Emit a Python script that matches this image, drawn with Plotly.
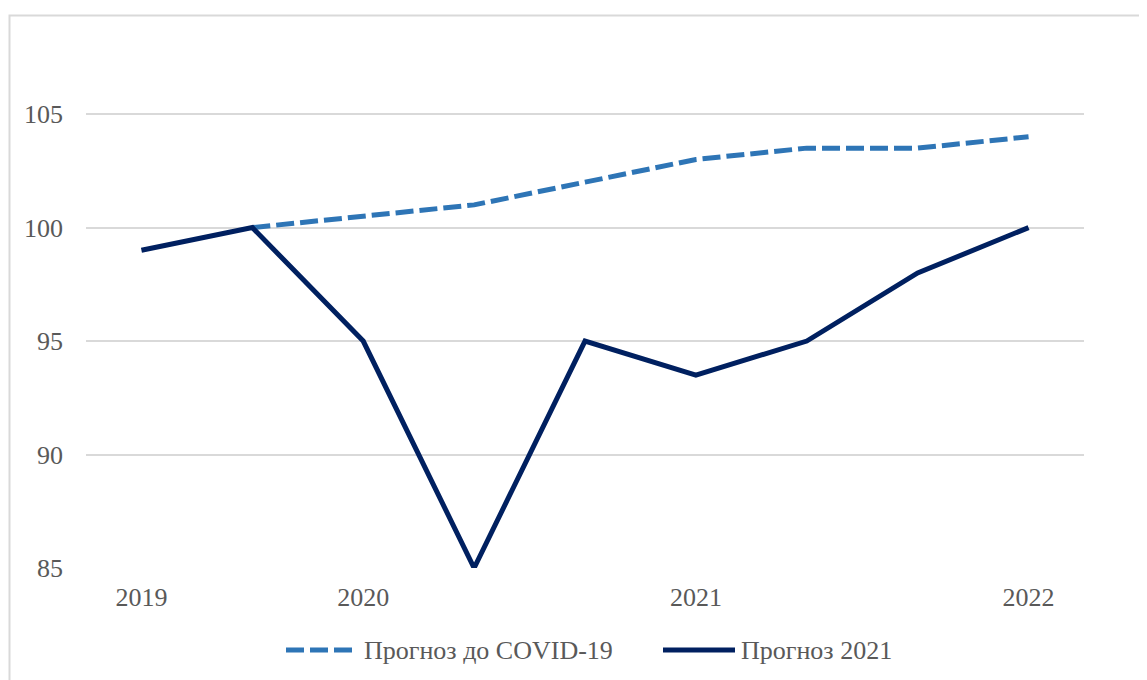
import plotly.graph_objects as go

categories = ["2019", "", "2020", "", "", "2021", "", "", "2022"]
x_idx = list(range(len(categories)))
precovid = [None, 100, 100.5, 101, 102, 103, 103.5, 103.5, 104]
forecast2021 = [99, 100, 95, 85, 95, 93.5, 95, 98, 100]
tick_positions = [0, 2, 5, 8]
tick_labels = ["2019", "2020", "2021", "2022"]
y_ticks = [85, 90, 95, 100, 105]
series_names = ["Прогноз до COVID-19", "Прогноз 2021"]
series_colors = ["#2E75B6", "#002060"]
series_dash = ["18px,6px", "solid"]

FONT = "Liberation Serif"
GRAY = "#595959"
FS = 26

# page offset (browser body margin)
OFF = 8
W, H = 1147 - OFF, 680 - OFF
PL, PR, PT, PB = 86, 1084, 46, 568  # plot area in page pixels
L = PL - OFF
T = PT - OFF
R = (OFF + W) - PR
B = (OFF + H) - PB
pw = PR - PL
ph = PB - PT


def px(x):
    return (x - PL) / pw


def py(y):
    return (PB - y) / ph


fig = go.Figure()
fig.add_trace(go.Scatter(
    x=x_idx, y=precovid, mode="lines", name=series_names[0],
    line=dict(color=series_colors[0], width=5, dash=series_dash[0]),
    showlegend=False,
))
fig.add_trace(go.Scatter(
    x=x_idx, y=forecast2021, mode="lines", name=series_names[1],
    line=dict(color=series_colors[1], width=5, dash=series_dash[1]),
    showlegend=False,
))

legend_y = 650
legend_items = [(286, 352, 362), (663, 735, 739)]
shapes = [dict(
    type="rect", xref="paper", yref="paper",
    x0=px(9.5), x1=px(1170), y0=py(720), y1=py(15.5),
    line=dict(color="#D9D9D9", width=2), fillcolor="rgba(0,0,0,0)", layer="below",
)]
annotations = []
for (x0, x1, tx), name, col, dash in zip(legend_items, series_names, series_colors, series_dash):
    shapes.append(dict(
        type="line", xref="paper", yref="paper",
        x0=px(x0), x1=px(x1), y0=py(legend_y), y1=py(legend_y),
        line=dict(color=col, width=5, dash=dash),
    ))
    annotations.append(dict(
        xref="paper", yref="paper", x=px(tx), y=py(legend_y),
        xanchor="left", yanchor="middle", text=name, showarrow=False,
        font=dict(family=FONT, size=FS, color=GRAY),
    ))

fig.update_layout(
    width=W, height=H,
    margin=dict(l=L, r=R, t=T, b=B, autoexpand=False),
    paper_bgcolor="white", plot_bgcolor="white",
    font=dict(family=FONT, size=FS, color=GRAY),
    showlegend=False,
    xaxis=dict(
        range=[-0.5, 8.5], tickmode="array", tickvals=tick_positions, ticktext=tick_labels,
        showgrid=False, zeroline=False, showline=False, ticks="",
        ticklabelstandoff=11,
        tickfont=dict(family=FONT, size=FS, color=GRAY),
    ),
    yaxis=dict(
        range=[85, 108], tickmode="array", tickvals=y_ticks,
        showgrid=True, gridcolor="#D9D9D9", gridwidth=2, zeroline=False, showline=False,
        ticks="", ticklabelstandoff=22,
        tickfont=dict(family=FONT, size=FS, color=GRAY),
    ),
    shapes=shapes,
    annotations=annotations,
)

fig.write_html("out.html")
